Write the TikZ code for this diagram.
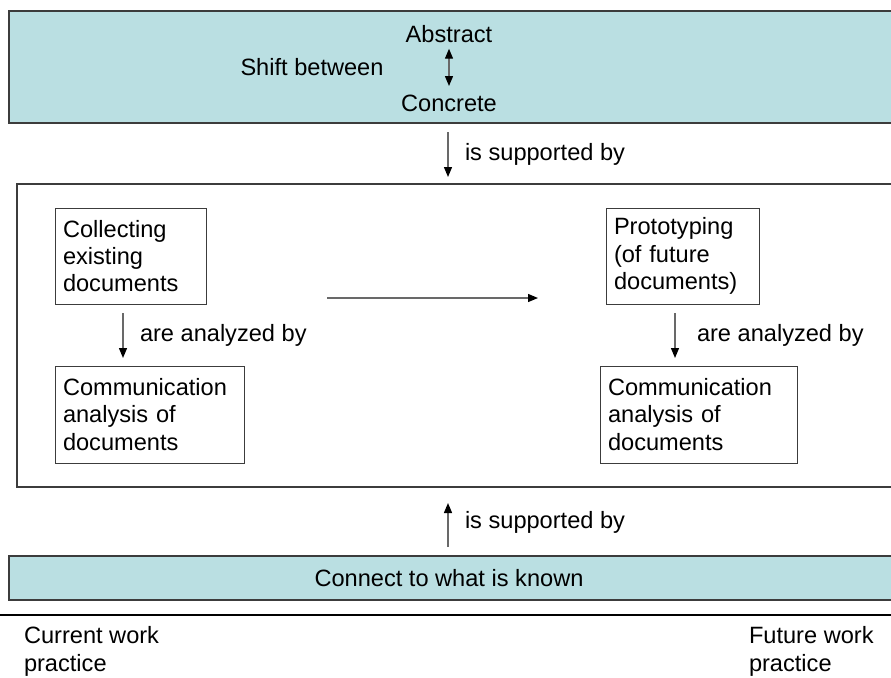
\documentclass[tikz,border=0pt]{standalone}
\usepackage{fontspec}
\setmainfont{Liberation Sans}
\usetikzlibrary{arrows.meta,calc}
\definecolor{panelteal}{RGB}{186,223,226}
\definecolor{edgegray}{RGB}{60,60,60}
\definecolor{linkgray}{RGB}{105,105,105}
\begin{document}
\begin{tikzpicture}[x=1pt,y=-1pt,
  every node/.style={font=\fontsize{23.6}{27.2}\selectfont, inner sep=0pt, outer sep=0pt},
  band/.style={draw=edgegray, line width=1.3pt, fill=panelteal, anchor=north west},
  frame/.style={draw=edgegray, line width=1.3pt, anchor=north west},
  docbox/.style={draw=edgegray, line width=1pt, anchor=north west, align=left,
    inner xsep=8pt, minimum height=#1},
  docbox/.default=96pt,
  link/.style={draw=linkgray, line width=1.3pt,
    -{Triangle[length=10pt,width=8pt,color=black]}},
  twoway/.style={draw=linkgray, line width=1.3pt,
    {Triangle[length=10pt,width=8pt,color=black]}-{Triangle[length=10pt,width=8pt,color=black]}},
  caption/.style={anchor=base west},
]
\useasboundingbox (0,0) rectangle (891,677);
\clip (0,0) rectangle (891,677);

% upper band: shift between abstraction levels
\node[band, minimum width=900pt, minimum height=112pt] (shiftband) at (9,11) {};
\node[anchor=base] (abstract) at (449,42.5) {Abstract};
\node[anchor=base] (concrete) at (449,111.5) {Concrete};
\node[anchor=base] (shift) at (312,75.5) {Shift between};
\draw[twoway] ($(abstract.south)+(0,6)$) -- ($(concrete.north)+(0,-9)$);

% supporting arrow from the upper band
\coordinate (topfrom) at (448,132);
\coordinate (topto) at (448,177);
\draw[link] (topfrom) -- (topto);
\node[caption] (supA) at (465,160) {is supported by};

% central frame with the document activities
\node[frame, minimum width=900pt, minimum height=303pt] (work) at (17,184) {};

\node[docbox, text width=135pt] (collect) at (55,208) {Collecting\\existing\\documents};
\node[docbox=97pt, text width=173pt] (commA) at (55,366) {Communication\\analysis of\\documents};
\node[docbox, text width=137pt] (proto) at (606,208) {Prototyping\\(of future\\documents)};
\node[docbox=97pt, text width=181pt] (commB) at (600,366) {Communication\\analysis of\\documents};

\draw[link] ($(collect.south west)+(68,9)$) -- ($(commA.north west)+(68,-8)$);
\node[caption] (anA) at (140,341) {are analyzed by};
\draw[link] ($(proto.south west)+(69,9)$) -- ($(commB.north west)+(75,-8)$);
\node[caption] (anB) at (697,341) {are analyzed by};

\draw[link] ($(collect.south east)+(121,-6)$) -- ($(proto.south west)+(-68,-6)$);

% lower band
\node[band, minimum width=900pt, minimum height=44pt] (known) at (9,556) {};
\node[anchor=base] (knowntext) at (449,586) {Connect to what is known};
\draw[link] ($(known.north west)+(439,-9)$) -- ($(work.south west)+(431,16)$);
\node[caption] (supB) at (465,528) {is supported by};

% timeline
\coordinate (lineL) at (0,615);
\coordinate (lineR) at (891,615);
\draw[line width=1.3pt, black] (lineL) -- (lineR);
\node[anchor=base west, align=left] (current) at (24,671) {Current work\\practice};
\node[anchor=base west, align=left] (future) at (749,671) {Future work\\practice};
\end{tikzpicture}
\end{document}
